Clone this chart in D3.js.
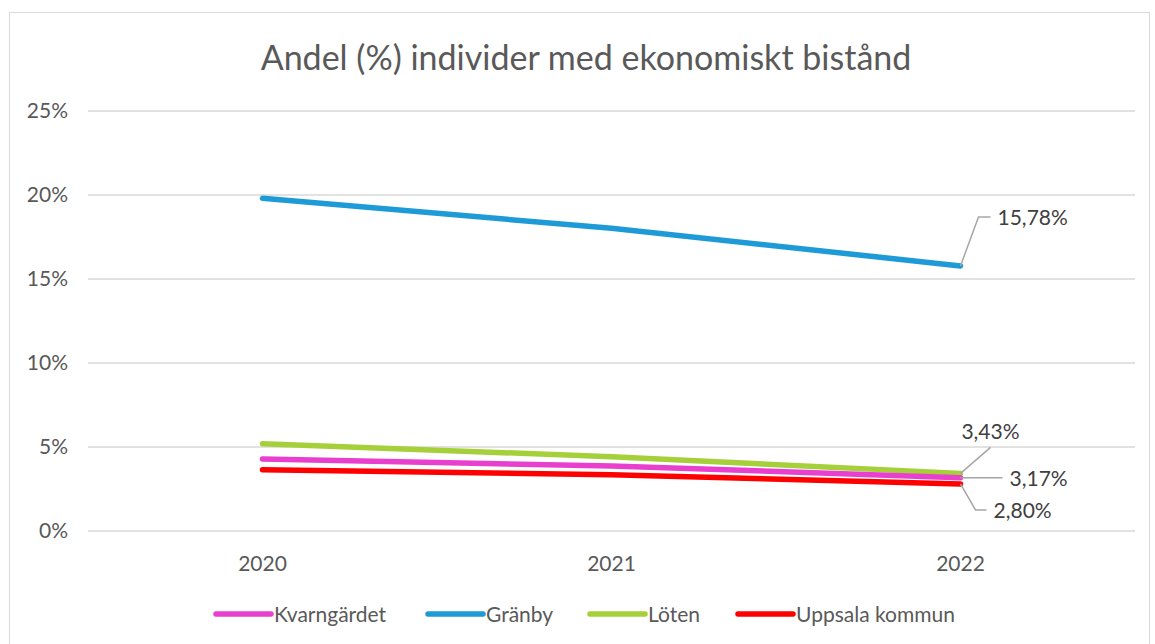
<!DOCTYPE html>
<html>
<head>
<meta charset="utf-8">
<script src="https://cdn.jsdelivr.net/npm/d3@7"></script>
<style>
  body { margin: 0; background: #fff; }
  svg { font-family: Lato, "Open Sans", sans-serif; }
</style>
</head>
<body>
<div id="chart"></div>
<script>
// data
const years = ["2020", "2021", "2022"];
const seriesNames = ["Kvarngärdet", "Gränby", "Löten", "Uppsala kommun"];
const seriesColors = ["#e83fcf", "#1e9bd7", "#a5d03a", "#ff0000"];
const kvarngardet = [4.29, 3.87, 3.17];
const granby = [19.8, 18.02, 15.78];
const loten = [5.2, 4.42, 3.43];
const uppsala = [3.65, 3.35, 2.80];
const yTicks = [0, 5, 10, 15, 20, 25];

const width = 1155, height = 644;
const margin = {left: 88, right: 1135, top: 111, bottom: 531};

let svg = d3.select("#chart").append("svg")
    .attr("width", width)
    .attr("height", height);

// chart border
svg.append("rect")
    .attr("x", 9.5).attr("y", 12.5)
    .attr("width", 1140).attr("height", 640)
    .attr("fill", "#fff")
    .attr("stroke", "#d9d9d9");

svg.append("text")
    .attr("x", 586).attr("y", 70)
    .attr("text-anchor", "middle")
    .attr("font-size", 34)
    .attr("fill", "#595959")
    .text("Andel (%) individer med ekonomiskt bistånd");

let x = d3.scalePoint()
    .domain(years)
    .range([margin.left, margin.right])
    .padding(0.5);

let y = d3.scaleLinear()
    .domain([0, 25])
    .range([margin.bottom, margin.top]);

// gridlines
svg.append("g")
    .selectAll("line")
    .data(yTicks)
    .enter().append("line")
    .attr("x1", margin.left).attr("x2", margin.right)
    .attr("y1", d => y(d)).attr("y2", d => y(d))
    .attr("stroke", "#d9d9d9")
    .attr("stroke-width", 1.3);

// y labels
svg.append("g")
    .selectAll("text")
    .data(yTicks)
    .enter().append("text")
    .attr("x", 68)
    .attr("y", d => y(d) + 7)
    .attr("text-anchor", "end")
    .attr("font-size", 21)
    .attr("fill", "#595959")
    .text(d => d + "%");

// x labels
svg.append("g")
    .selectAll("text")
    .data(years)
    .enter().append("text")
    .attr("x", d => x(d))
    .attr("y", 571)
    .attr("text-anchor", "middle")
    .attr("font-size", 21)
    .attr("fill", "#595959")
    .text(d => d);

let allSeries = [kvarngardet, granby, loten, uppsala];
// drawing order: Gränby, Löten, Kvarngärdet, Uppsala on top
let drawOrder = [1, 2, 0, 3];

let line = d3.line()
    .x((d, i) => x(years[i]))
    .y(d => y(d));

drawOrder.forEach(k => {
    svg.append("path")
        .datum(allSeries[k])
        .attr("fill", "none")
        .attr("stroke", seriesColors[k])
        .attr("stroke-width", 5.5)
        .attr("stroke-linecap", "round")
        .attr("stroke-linejoin", "round")
        .attr("d", line);
});

// data labels with leader lines for 2022
const fmt = v => v.toFixed(2).replace(".", ",") + "%";
let lx = x("2022");
let labels = [
    {v: granby[2], pts: [[0, 0], [18, -49], [30, -49]], tx: 37, ty: -41, anchor: "start"},
    {v: loten[2], pts: [[0, 0], [30, -26]], tx: 30, ty: -34, anchor: "middle"},
    {v: kvarngardet[2], pts: [[0, 0], [42, 0]], tx: 49, ty: 8, anchor: "start"},
    {v: uppsala[2], pts: [[0, 0], [15, 26], [26, 26]], tx: 33, ty: 34, anchor: "start"}
];
labels.forEach(l => {
    let y0 = y(l.v);
    svg.append("path")
        .attr("d", d3.line()(l.pts.map(p => [lx + p[0], y0 + p[1]])))
        .attr("fill", "none")
        .attr("stroke", "#a6a6a6")
        .attr("stroke-width", 1.5);
    svg.append("text")
        .attr("x", lx + l.tx)
        .attr("y", y0 + l.ty)
        .attr("text-anchor", l.anchor)
        .attr("font-size", 21)
        .attr("fill", "#404040")
        .text(fmt(l.v));
});

// legend
let legendX = [216, 428, 590, 738];
seriesNames.forEach((n, i) => {
    let g = svg.append("g").attr("transform", "translate(" + legendX[i] + ",614)");
    g.append("line")
        .attr("x1", 0).attr("x2", 55)
        .attr("stroke", seriesColors[i])
        .attr("stroke-width", 5.5)
        .attr("stroke-linecap", "round");
    g.append("text")
        .attr("x", 58).attr("y", 8)
        .attr("font-size", 21)
        .attr("fill", "#595959")
        .text(n);
});
</script>
</body>
</html>
